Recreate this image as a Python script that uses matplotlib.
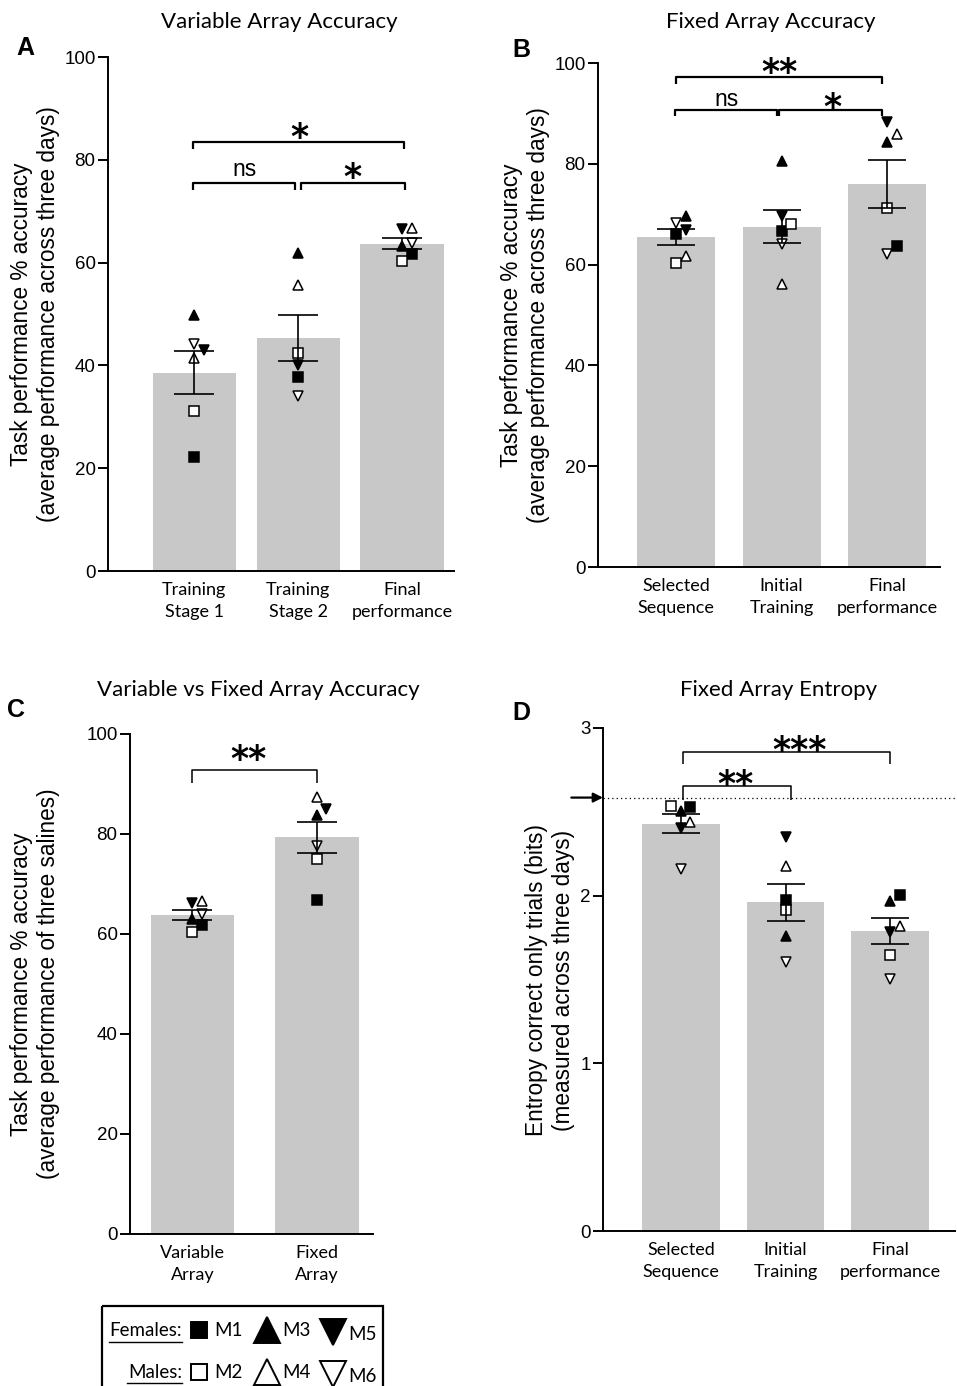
import numpy as np
import matplotlib
matplotlib.use('Agg')
import matplotlib.pyplot as plt
from matplotlib.patches import Rectangle

# mice, in the order of every value list below
mice = ['M1', 'M2', 'M3', 'M4', 'M5', 'M6']
mouse_marker = ['s', 's', '^', '^', 'v', 'v']
mouse_filled = [True, False, True, False, True, False]

# A - variable array accuracy (%)
var_labels = ['Training\nStage 1', 'Training\nStage 2', 'Final\nperformance']
var_stage1 = [22.2, 31.1, 49.8, 41.5, 42.9, 44.2]
var_stage2 = [37.8, 42.4, 61.9, 55.6, 40.1, 34.1]
var_final = [61.6, 60.3, 63.2, 66.7, 66.5, 63.9]

# B - fixed array accuracy (%)
fix_labels = ['Selected\nSequence', 'Initial\nTraining', 'Final\nperformance']
fix_selected = [66.1, 60.3, 69.6, 61.8, 66.9, 68.2]
fix_initial = [66.7, 68.0, 80.6, 56.2, 69.6, 64.1]
fix_final = [63.6, 71.3, 84.3, 85.9, 88.2, 62.2]

# C - variable vs fixed (%)
vf_labels = ['Variable\nArray', 'Fixed\nArray']
vf_variable = [61.8, 60.5, 63.1, 66.7, 66.3, 64.1]
vf_fixed = [66.9, 75.1, 83.8, 87.5, 85.1, 77.6]

# D - entropy (bits)
ent_labels = ['Selected\nSequence', 'Initial\nTraining', 'Final\nperformance']
ent_selected = [2.527, 2.535, 2.507, 2.441, 2.401, 2.162]
ent_initial = [1.972, 1.912, 1.762, 2.176, 2.347, 1.603]
ent_final = [2.002, 1.647, 1.968, 1.822, 1.786, 1.503]
max_entropy = np.log2(6)

BAR = '#c8c8c8'
ARIAL = 'Liberation Sans'
CAL = 'Lato'

fig = plt.figure(figsize=(9.57, 13.86), dpi=100)

# overlay in pixel coords for titles, labels and the key
ov = fig.add_axes([0, 0, 1, 1])
ov.set_xlim(0, 957)
ov.set_ylim(1386, 0)
ov.axis('off')


def swarm(ax, vals, step=9.5, thr=9):
    # spread points that would overlap, in pixels
    sy = ax.bbox.height / (ax.get_ylim()[1] - ax.get_ylim()[0])
    sx = ax.bbox.width / (ax.get_xlim()[1] - ax.get_xlim()[0])
    offs = np.zeros(len(vals))
    placed = []
    for i in np.argsort(vals):
        y = vals[i] * sy
        for c in [0, step, -step, 2 * step, -2 * step]:
            if all(abs(c - o) >= thr or abs(y - yy) >= thr for o, yy in placed):
                break
        placed.append((c, y))
        offs[i] = c / sx
    return offs


def panel(ax, groups, labels, width, capsize, ylim, yticks):
    ax.set_xlim(*ax._xl)
    ax.set_ylim(*ylim)
    for i, vals in enumerate(groups):
        vals = np.array(vals)
        m = vals.mean()
        sem = vals.std(ddof=1) / np.sqrt(len(vals))
        ax.bar(i, m, width, color=BAR, zorder=1)
        offs = swarm(ax, vals)
        for k, v in enumerate(vals):
            ms = 7 if mouse_marker[k] == 's' else 7.5
            ax.plot(i + offs[k], v, marker=mouse_marker[k], ms=ms, ls='none',
                    mfc='k' if mouse_filled[k] else 'white', mec='k', mew=1.1,
                    zorder=3, clip_on=False)
        ax.errorbar(i, m, yerr=sem, color='k', capsize=capsize, elinewidth=1.2,
                    capthick=1.2, zorder=4)
    ax.set_yticks(yticks)
    ax.set_xticks(range(len(groups)))
    ax.set_xticklabels(labels, family=CAL, fontsize=13, linespacing=1.45)
    for t in ax.get_yticklabels():
        t.set_family(ARIAL)
        t.set_fontsize(13.5)
    ax.tick_params(axis='y', length=7, width=1.4, pad=2)
    ax.tick_params(axis='x', length=0, pad=8)
    for s in ['top', 'right']:
        ax.spines[s].set_visible(False)
    for s in ['left', 'bottom']:
        ax.spines[s].set_linewidth(1.4)
    ax.set_facecolor('none')


def bracket(ax, x1, x2, y, tick, lw=1.6):
    ax.plot([x1, x1, x2, x2], [y - tick, y, y, y - tick], color='k', lw=lw,
            clip_on=False, solid_capstyle='butt', zorder=5)


def stars(ax, x, y, s, fs=25):
    ax.annotate(s, xy=(x, y), xytext=(0, -0.53 * fs), textcoords='offset points',
                ha='center', va='baseline', fontsize=fs, fontweight='bold',
                family='DejaVu Sans', annotation_clip=False)


def ns(ax, x, y):
    ax.text(x, y, 'ns', ha='center', va='baseline', fontsize=16.5, family=ARIAL)


# ---- A ----
axA = fig.add_axes([108 / 957, 1 - 571 / 1386, 346 / 957, 514 / 1386])
axA._xl = (-0.83, 2.5)
panel(axA, [var_stage1, var_stage2, var_final], var_labels, 0.8, 14.5,
      (0, 100), range(0, 101, 20))
bracket(axA, -0.01, 0.97, 75.5, 1.3)
bracket(axA, 1.03, 2.03, 75.5, 1.3)
bracket(axA, -0.01, 2.02, 83.5, 1.4)
ns(axA, 0.48, 76.9)
stars(axA, 1.52, 78.0, '*')
stars(axA, 1.01, 85.8, '*')

# ---- B ----
axB = fig.add_axes([598 / 957, 1 - 567 / 1386, 342 / 957, 504 / 1386])
axB._xl = (-0.74, 2.5)
panel(axB, [fix_selected, fix_initial, fix_final], fix_labels, 0.74, 14,
      (0, 100), range(0, 101, 20))
bracket(axB, -0.01, 0.955, 90.7, 1.2)
bracket(axB, 0.976, 1.955, 90.7, 1.2)
bracket(axB, 0.0, 1.955, 97.2, 1.4)
ns(axB, 0.48, 91.5)
stars(axB, 1.476, 92.7, '*')
stars(axB, 0.976, 99.6, '**')

# ---- C ----
axC = fig.add_axes([130 / 957, 1 - 1234 / 1386, 243 / 957, 500 / 1386])
axC._xl = (-0.5, 1.45)
panel(axC, [vf_variable, vf_fixed], vf_labels, 0.67, 14.5,
      (0, 100), range(0, 101, 20))
bracket(axC, 0.0, 1.0, 92.8, 2.6, lw=1.1)
stars(axC, 0.45, 96.4, '**')

# ---- D ----
axD = fig.add_axes([603 / 957, 1 - 1231 / 1386, 352 / 957, 503 / 1386])
axD._xl = (-0.745, 2.62)
panel(axD, [ent_selected, ent_initial, ent_final], ent_labels, 0.74, 13.8,
      (0, 3), range(0, 4))
axD.axhline(max_entropy, ls=(0, (1, 2.5)), color='k', lw=0.9, zorder=2)
axD.annotate('', xy=(0, max_entropy), xytext=(-0.09, max_entropy),
             xycoords=('axes fraction', 'data'),
             arrowprops=dict(arrowstyle='-|>', color='k', lw=1.6,
                             mutation_scale=14, shrinkA=0, shrinkB=0),
             annotation_clip=False)
bracket(axD, 0.016, 1.05, 2.654, 0.085, lw=1.1)
bracket(axD, 0.016, 1.995, 2.857, 0.072, lw=1.1)
stars(axD, 0.525, 2.71, '**')
stars(axD, 1.136, 2.91, '***')

# ---- titles, letters, y labels ----
for x, y, t in [(279, 22, 'Variable Array Accuracy'), (771, 22, 'Fixed Array Accuracy'),
                (258, 690, 'Variable vs Fixed Array Accuracy'), (779, 690, 'Fixed Array Entropy')]:
    ov.text(x, y, t, ha='center', va='center', fontsize=16, family=CAL)
for x, y, t in [(25, 48, 'A'), (521, 50, 'B'), (16, 710, 'C'), (521, 713, 'D')]:
    ov.text(x, y, t, ha='center', va='center', fontsize=18, fontweight='bold', family=ARIAL)

ylab_acc = 'Task performance % accuracy\n(average performance across three days)'
ylab_sal = 'Task performance % accuracy\n(average performance of three salines)'
ylab_ent = 'Entropy correct only trials (bits)\n(measured across three days)'
for x, y, t in [(35, 314, ylab_acc), (525, 315, ylab_acc), (35, 984, ylab_sal), (550, 980, ylab_ent)]:
    ov.text(x, y, t, rotation=90, ha='center', va='center', multialignment='center',
            fontsize=16.3, family=ARIAL, linespacing=1.2)

# ---- key ----
ov.add_patch(Rectangle((102, 1306), 281, 100, fill=False, lw=1.6, ec='k', clip_on=False))
ov.text(182, 1331, 'Females:', ha='right', va='center', fontsize=13.5, family=CAL)
ov.plot([109, 182], [1342, 1342], color='k', lw=1.0)
ov.text(182, 1372, 'Males:', ha='right', va='center', fontsize=13.5, family=CAL)
ov.plot([127, 182], [1383, 1383], color='k', lw=1.0)
for k, m in enumerate(mice):
    row = 1330 if mouse_filled[k] else 1372
    col = [199, 267, 333][k // 2]
    ms = 12 if mouse_marker[k] == 's' else 19
    ov.plot(col, row + (2 if mouse_marker[k] == 'v' else 0), marker=mouse_marker[k], ms=ms,
            mfc='k' if mouse_filled[k] else 'white', mec='k', mew=1.4, ls='none')
    ov.text(col + 15, row + (4 if mouse_marker[k] == 'v' else 0), m, ha='left', va='center',
            fontsize=13.5, family=CAL)

fig.savefig('out.png', dpi=100)
